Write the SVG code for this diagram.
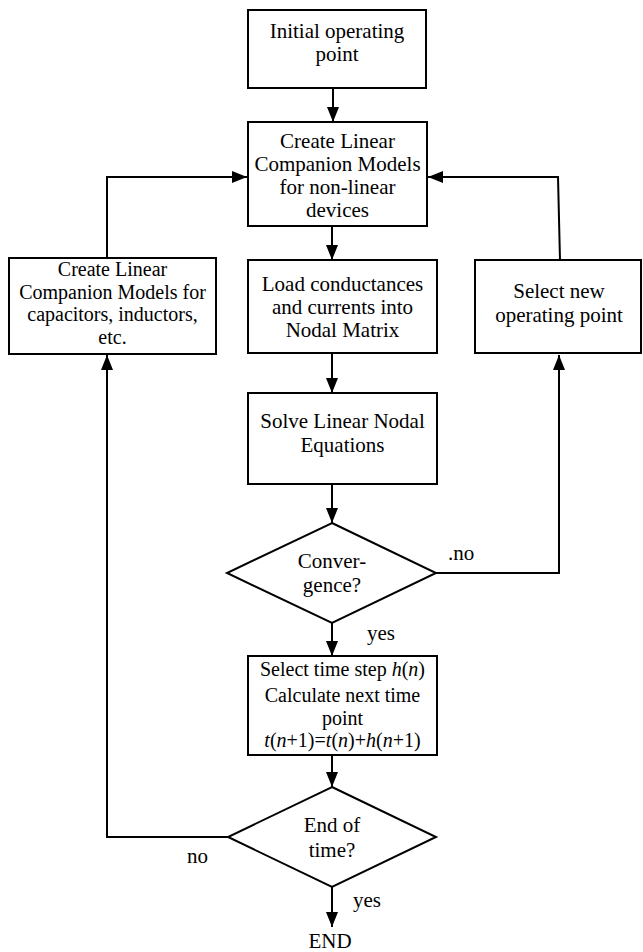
<svg xmlns="http://www.w3.org/2000/svg" width="643" height="952" viewBox="0 0 643 952">
<style>
  .box { fill: #ffffff; stroke: #000000; stroke-width: 2; }
  text { font-family: "Liberation Serif", Tinos, "DejaVu Serif", "Times New Roman", serif; font-size: 21px; fill: #000000; }
  .t { text-anchor: middle; }
  .s { font-size: 20px; }
  .i { font-style: italic; }
  .c { fill: none; stroke: #000000; stroke-width: 2; }
</style>
<defs>
  <marker id="ah" markerUnits="userSpaceOnUse" markerWidth="16" markerHeight="13" refX="15" refY="6" orient="auto">
    <path d="M0,0 L15,6 L0,12 z" fill="#000000"/>
  </marker>
</defs>
<rect width="643" height="952" fill="#ffffff"/>

<g id="connectors">
  <line class="c" x1="333" y1="88" x2="333" y2="122" marker-end="url(#ah)"/>
  <line class="c" x1="332" y1="226" x2="332" y2="260" marker-end="url(#ah)"/>
  <line class="c" x1="332" y1="353" x2="332" y2="393" marker-end="url(#ah)"/>
  <line class="c" x1="332" y1="484" x2="332" y2="523" marker-end="url(#ah)"/>
  <line class="c" x1="332" y1="623" x2="332" y2="656" marker-end="url(#ah)"/>
  <line class="c" x1="332" y1="755" x2="332" y2="787" marker-end="url(#ah)"/>
  <line class="c" x1="332" y1="887" x2="332" y2="927" marker-end="url(#ah)"/>
  <polyline class="c" points="436,573 559,573 559,355" marker-end="url(#ah)"/>
  <polyline class="c" points="560,260 558,177 428,177" marker-end="url(#ah)"/>
  <polyline class="c" points="228,837 107,837 107,355" marker-end="url(#ah)"/>
  <polyline class="c" points="107,258 107,177 247,177" marker-end="url(#ah)"/>
  <text x="448" y="560">.no</text>
  <text x="367" y="640">yes</text>
  <text x="187" y="863">no</text>
  <text x="353" y="907">yes</text>
  <text class="t" x="330" y="948">END</text>
</g>

<g id="initial">
  <rect class="box" x="248" y="10" width="178" height="78"/>
  <text class="t" x="337" y="38">Initial operating</text>
  <text class="t" x="337" y="61">point</text>
</g>

<g id="nonlinear">
  <rect class="box" x="248" y="122" width="179" height="104"/>
  <text class="t" x="337.5" y="148">Create Linear</text>
  <text class="t" x="337.5" y="171">Companion Models</text>
  <text class="t" x="337.5" y="194">for non-linear</text>
  <text class="t" x="337.5" y="217">devices</text>
</g>

<g id="load">
  <rect class="box" x="248" y="260" width="189" height="93"/>
  <text class="t" x="342.5" y="291">Load conductances</text>
  <text class="t" x="342.5" y="314">and currents into</text>
  <text class="t" x="342.5" y="337">Nodal Matrix</text>
</g>

<g id="solve">
  <rect class="box" x="248" y="393" width="189" height="91"/>
  <text class="t" x="342.5" y="428">Solve Linear Nodal</text>
  <text class="t" x="342.5" y="452">Equations</text>
</g>

<g id="convergence">
  <polygon class="box" points="332,523 436,573 332,623 227,573"/>
  <text class="t" x="332" y="568">Conver-</text>
  <text class="t" x="332" y="592">gence?</text>
</g>

<g id="timestep">
  <rect class="box" x="248" y="656" width="189" height="99"/>
  <text class="t s" x="342.5" y="676">Select time step <tspan class="i">h</tspan>(<tspan class="i">n</tspan>)</text>
  <text class="t s" x="342.5" y="702">Calculate next time</text>
  <text class="t s" x="342.5" y="724.5">point</text>
  <text class="t s" x="342.5" y="747"><tspan class="i">t</tspan>(<tspan class="i">n</tspan>+1)=<tspan class="i">t</tspan>(<tspan class="i">n</tspan>)+<tspan class="i">h</tspan>(<tspan class="i">n</tspan>+1)</text>
</g>

<g id="endoftime">
  <polygon class="box" points="332,787 436,837 332,887 228,837"/>
  <text class="t" x="332" y="832">End of</text>
  <text class="t" x="332" y="857">time?</text>
</g>

<g id="capacitors">
  <rect class="box" x="9" y="258" width="207" height="96"/>
  <text class="t s" x="112.5" y="276">Create Linear</text>
  <text class="t s" x="112.5" y="298.5">Companion Models for</text>
  <text class="t s" x="112.5" y="321">capacitors, inductors,</text>
  <text class="t s" x="112.5" y="343.5">etc.</text>
</g>

<g id="newpoint">
  <rect class="box" x="475" y="260" width="166" height="93"/>
  <text class="t" x="559" y="298">Select new</text>
  <text class="t" x="559" y="321.5">operating point</text>
</g>
</svg>
